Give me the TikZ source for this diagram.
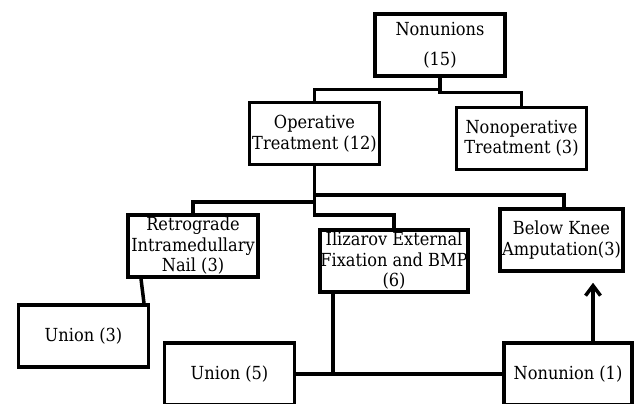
\documentclass[tikz,border=0pt]{standalone}
\usepackage{fontspec}
\setmainfont{DejaVu Serif Condensed}
\usetikzlibrary{arrows.meta}

\begin{document}
\begin{tikzpicture}[
x=1pt, y=-1pt,
box/.style={draw, rectangle, align=center, line width=3.5pt, inner sep=0pt, minimum width=130pt, minimum height=62pt, font=\fontsize{18}{20.5}\selectfont},
link/.style={line width=3.5pt},
arrow/.style={-{Straight Barb[length=10pt, width=15pt]}, line width=3.5pt}
]
\useasboundingbox (0,0) rectangle (635,404);
\clip (0,0) rectangle (635,404);

\node[box] (nonunions) at (440,45)
{Nonunions\\[9.5pt]
(15)};

\node[box] (operative) at (314.5,133.5)
{Operative\\
Treatment (12)};

\node[box] (nonoperative) at (521.5,138.5)
{Nonoperative\\
Treatment (3)};

\node[box] (retrograde) at (193,246)
{Retrograde\\
Intramedullary\\
Nail (3)};

\node[box] (union3) at (83.5,336)
{Union (3)};

\node[box] (union5) at (229.5,374)
{Union (5)};

\node[box, minimum width=148pt] (ilizarov) at (394,261)
{Ilizarov External\\
Fixation and BMP\\
(6)};

\node[box, minimum width=123pt] (bka) at (561.5,240)
{Below Knee\\
Amputation(3)};

\node[box, minimum width=128pt] (nonunion1) at (568,374)
{Nonunion (1)};

\draw[link] (nonunions.south) -- ++(0,12) -| (operative.north);
\draw[link] (nonunions.south) -- ++(0,15) -| (nonoperative.north);
\draw[link] (operative.south) -- ++(0,28.5) -| ([xshift=2.5pt]bka.north);
\draw[link] (operative.south) -- ++(0,35.5) -| (retrograde.north);
\draw[link] (operative.south) -- ++(0,48.5) -| (ilizarov.north);
\draw[link] ([xshift=-52pt]retrograde.south) -- ([xshift=60.5pt]union3.north);
\draw[link] (union5.east) -- (nonunion1.west);
\draw[link] ([xshift=-61pt]ilizarov.south) -- ([xshift=-61pt]ilizarov.south |- union5.east);
\draw[arrow, shorten >=10pt] ([xshift=25pt]nonunion1.north) -- ([xshift=25pt]nonunion1.north |- bka.south);

\end{tikzpicture}
\end{document}
